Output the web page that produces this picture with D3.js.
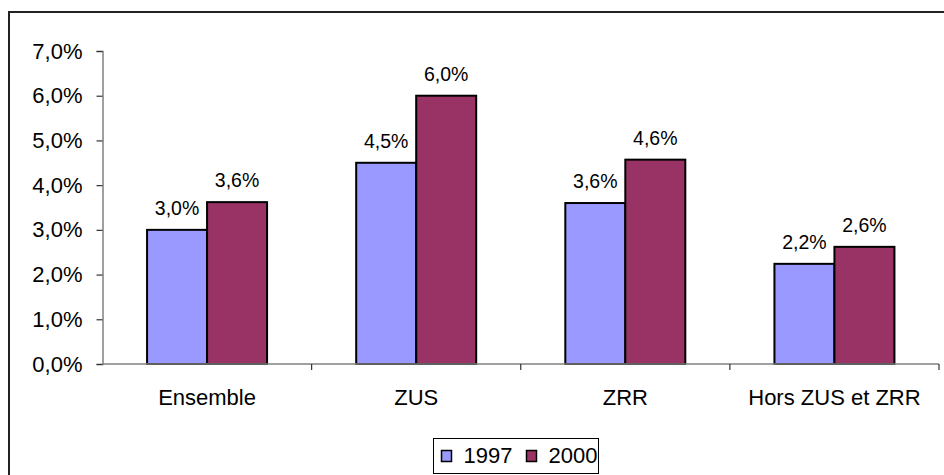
<!DOCTYPE html>
<html><head><meta charset="utf-8">
<script src="https://cdn.jsdelivr.net/npm/d3@7"></script>
<style>
html,body{margin:0;padding:0;background:#fff;}
svg{display:block;font-family:"Liberation Sans",Arial,sans-serif;}
</style></head>
<body>
<svg id="chart" width="944" height="475"></svg>
<script>
const categories = ["Ensemble", "ZUS", "ZRR", "Hors ZUS et ZRR"];
const seriesNames = ["1997", "2000"];
const values1997 = [3.0, 4.5, 3.6, 2.24];
const values2000 = [3.62, 6.0, 4.57, 2.62];
const labels1997 = ["3,0%", "4,5%", "3,6%", "2,2%"];
const labels2000 = ["3,6%", "6,0%", "4,6%", "2,6%"];
const yTicks = [0, 1, 2, 3, 4, 5, 6, 7];
const colors = ["#9999FF", "#993366"];

const svg = d3.select("#chart");
svg.append("rect").attr("x", 9).attr("y", 12).attr("width", 960).attr("height", 500)
  .attr("fill", "none").attr("stroke", "#222").attr("stroke-width", 2);

const x = d3.scaleBand().domain(categories).range([102.5, 939]).padding(0);
const bw = x.bandwidth();
const xs = d3.scaleBand().domain(seriesNames).range([0, bw]).paddingInner(0).paddingOuter((bw / 60 - 2) / 2);
const y = d3.scaleLinear().domain([0, 7]).range([364, 51]);
const fmt = v => v.toFixed(1).replace(".", ",") + "%";

// y axis
const yAxis = svg.append("g").attr("transform", "translate(102.5,0)")
  .call(d3.axisLeft(y).tickValues(yTicks).tickFormat(fmt).tickSize(6).tickPadding(14));
yAxis.select(".domain").attr("stroke", "#808080").attr("stroke-width", 1.5);
yAxis.selectAll(".tick line").attr("stroke", "#333").attr("stroke-width", 1.2);
yAxis.selectAll(".tick text").attr("font-size", 22).attr("fill", "#000")
  .attr("font-family", "Liberation Sans, Arial, sans-serif");

// bars
const data = [];
categories.forEach((c, i) => {
  data.push({c, s: seriesNames[0], v: values1997[i], l: labels1997[i], col: colors[0]});
  data.push({c, s: seriesNames[1], v: values2000[i], l: labels2000[i], col: colors[1]});
});
svg.append("g").selectAll("rect").data(data).join("rect")
  .attr("x", d => x(d.c) + xs(d.s))
  .attr("y", d => y(d.v))
  .attr("width", xs.bandwidth())
  .attr("height", d => y(0) - y(d.v))
  .attr("fill", d => d.col)
  .attr("stroke", "#000").attr("stroke-width", 2);

svg.append("g").selectAll("text").data(data).join("text")
  .attr("x", d => x(d.c) + xs(d.s) + xs.bandwidth() / 2)
  .attr("y", d => y(d.v) - 15)
  .attr("text-anchor", "middle").attr("font-size", 19.5).attr("fill", "#000")
  .text(d => d.l);

// x axis
const xAxisG = svg.append("g");
xAxisG.append("line").attr("x1", 102.5).attr("x2", 939).attr("y1", y(0)).attr("y2", y(0))
  .attr("stroke", "#808080").attr("stroke-width", 1.5);
const bounds = categories.map(c => x(c) + bw);
xAxisG.selectAll("line.t").data(bounds).join("line").attr("class", "t")
  .attr("x1", d => d).attr("x2", d => d).attr("y1", y(0)).attr("y2", y(0) + 6)
  .attr("stroke", "#333").attr("stroke-width", 1.2);
xAxisG.selectAll("text").data(categories).join("text")
  .attr("x", d => x(d) + bw / 2).attr("y", 405)
  .attr("text-anchor", "middle").attr("font-size", 22).attr("fill", "#000")
  .text(d => d);

// legend
const lg = svg.append("g");
lg.append("rect").attr("x", 433.5).attr("y", 438.5).attr("width", 165).attr("height", 35)
  .attr("fill", "#fff").attr("stroke", "#000").attr("stroke-width", 1);
const legX = [441.5, 526.5];
seriesNames.forEach((s, i) => {
  lg.append("rect").attr("x", legX[i]).attr("y", 450.5).attr("width", 10).attr("height", 11)
    .attr("fill", colors[i]).attr("stroke", "#000").attr("stroke-width", 1.5);
  lg.append("text").attr("x", legX[i] + 22).attr("y", 463).attr("font-size", 22).attr("fill", "#000").text(s);
});
</script>
</body></html>
